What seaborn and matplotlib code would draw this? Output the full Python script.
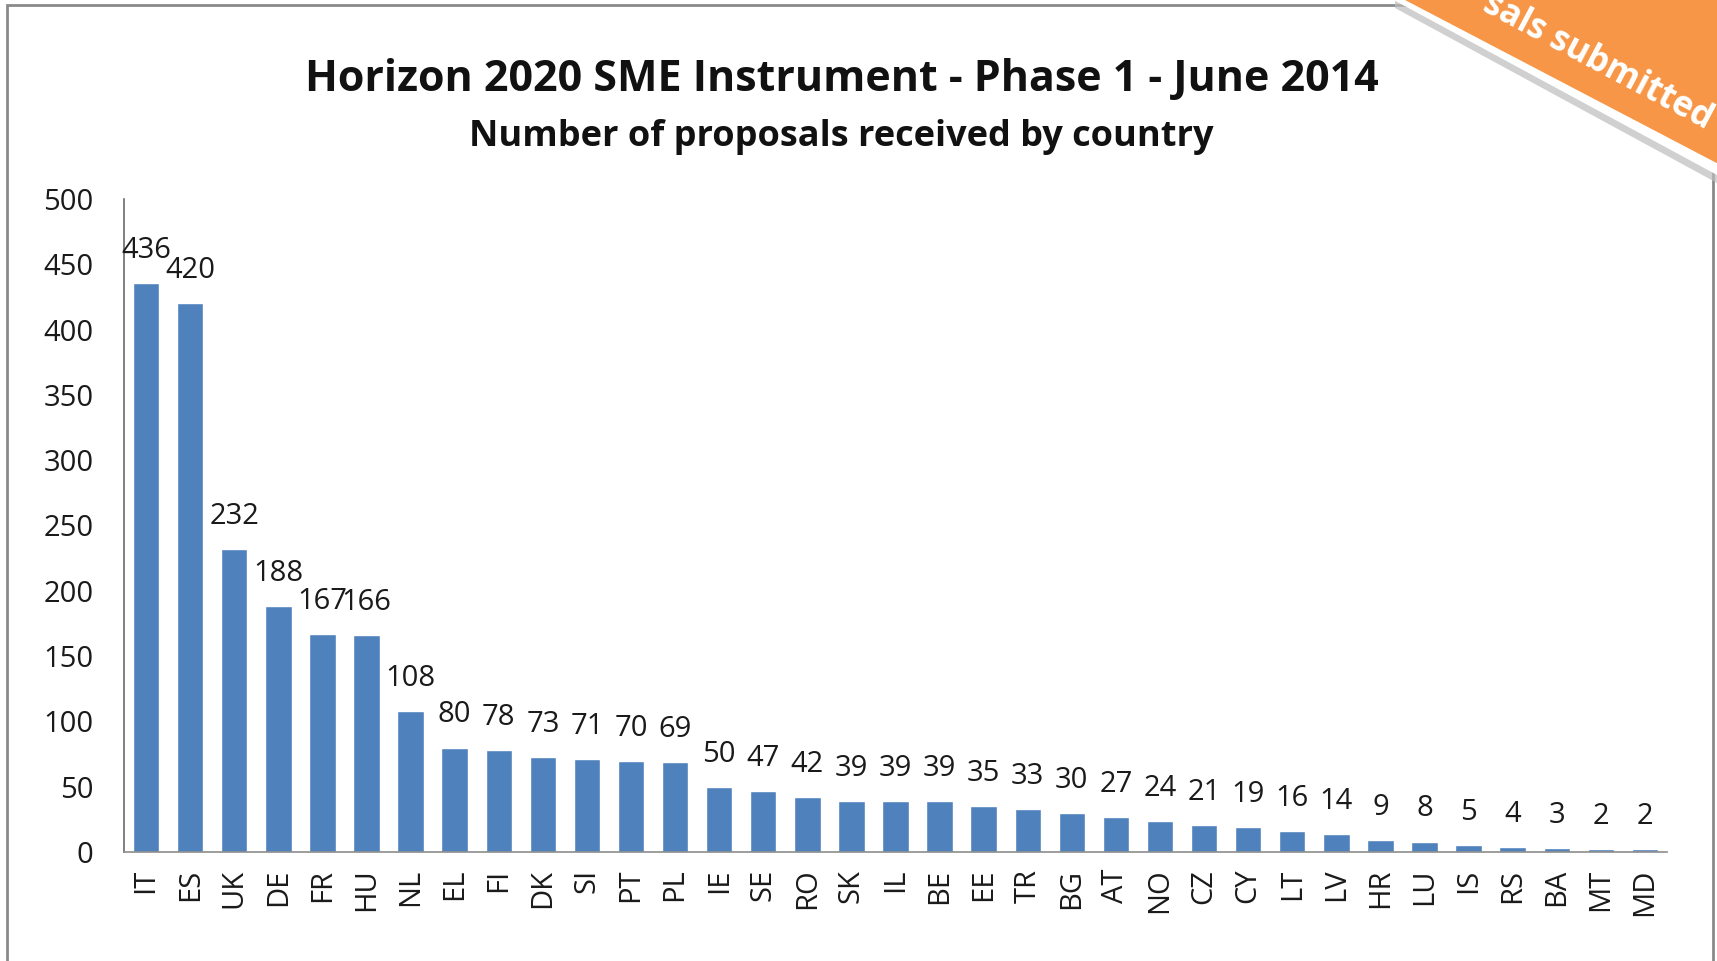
import matplotlib
matplotlib.use("Agg")
import matplotlib.pyplot as plt
import seaborn as sns
import pandas as pd
from matplotlib.patches import Polygon, Rectangle

countries = ["IT", "ES", "UK", "DE", "FR", "HU", "NL", "EL", "FI", "DK", "SI", "PT",
             "PL", "IE", "SE", "RO", "SK", "IL", "BE", "EE", "TR", "BG", "AT", "NO",
             "CZ", "CY", "LT", "LV", "HR", "LU", "IS", "RS", "BA", "MT", "MD"]
proposals = [436, 420, 232, 188, 167, 166, 108, 80, 78, 73, 71, 70,
             69, 50, 47, 42, 39, 39, 39, 35, 33, 30, 27, 24,
             21, 19, 16, 14, 9, 8, 5, 4, 3, 2, 2]
y_ticks = [0, 50, 100, 150, 200, 250, 300, 350, 400, 450, 500]
title = "Horizon 2020 SME Instrument - Phase 1 - June 2014"
subtitle = "Number of proposals received by country"
banner_text = "sals submitted"

df = pd.DataFrame({"country": countries, "proposals": proposals})

sns.set_theme(style="white")
plt.rcParams["font.family"] = ["Open Sans", "DejaVu Sans"]

W, H = 1717, 961
fig = plt.figure(figsize=(W / 100, H / 100), dpi=100)
ax = fig.add_axes([124 / W, 1 - 852 / H, (1667 - 124) / W, (852 - 199) / H])

sns.barplot(data=df, x="country", y="proposals", color="#4F81BD", saturation=1,
            width=0.6, ax=ax)
ax.set_ylim(0, 500)
ax.set_yticks(y_ticks)
ax.set_xlabel("")
ax.set_ylabel("")
for s in ["top", "right"]:
    ax.spines[s].set_visible(False)
ax.spines["left"].set_color("#6b6b6b")
ax.spines["left"].set_linewidth(1.2)
ax.spines["bottom"].set_color("#8c8c8c")
ax.spines["bottom"].set_linewidth(1.2)
ax.tick_params(axis="y", length=0, pad=22, labelsize=21, labelcolor="#1a1a1a")
ax.tick_params(axis="x", length=0, pad=12, labelsize=21, labelcolor="#1a1a1a",
               rotation=90)

for c in ax.containers:
    ax.bar_label(c, labels=[str(v) for v in proposals], padding=13, fontsize=21,
                 color="#1a1a1a")

fig.text(0.49, 1 - 80 / H, title, ha="center", va="center", fontsize=31,
         fontweight="bold", color="#111111")
fig.text(0.49, 1 - 137 / H, subtitle, ha="center", va="center", fontsize=26,
         fontweight="bold", color="#111111")

# outer frame
fig.patches.append(Rectangle((7 / W, -0.01), (1713 - 7) / W, 1 - 5 / H + 0.01,
                             transform=fig.transFigure, fill=False,
                             edgecolor="#8a8a8a", linewidth=2, zorder=1))

# orange banner in top-right corner
def fp(x, y):
    return (x / W, 1 - y / H)

shadow = Polygon([fp(1395, -5), fp(1730, -5), fp(1730, 190), fp(1395, 8)],
                 closed=True, transform=fig.transFigure, facecolor="#bdbdbd",
                 edgecolor="none", alpha=0.7, zorder=5)
white = Polygon([fp(1390, -5), fp(1730, -5), fp(1730, 182), fp(1390, -2)],
                closed=True, transform=fig.transFigure, facecolor="white",
                edgecolor="none", zorder=6)
orange = Polygon([fp(1405, 0), fp(1730, 0), fp(1730, 170)],
                 closed=True, transform=fig.transFigure, facecolor="#F79646",
                 edgecolor="none", zorder=7)
for p in (shadow, white, orange):
    fig.patches.append(p)
fig.text(1598 / W, 1 - 62 / H, banner_text, ha="center", va="center",
         rotation=-28, rotation_mode="anchor", fontsize=25, fontweight="bold",
         color="white", zorder=8)

fig.savefig("out.png", dpi=100)
